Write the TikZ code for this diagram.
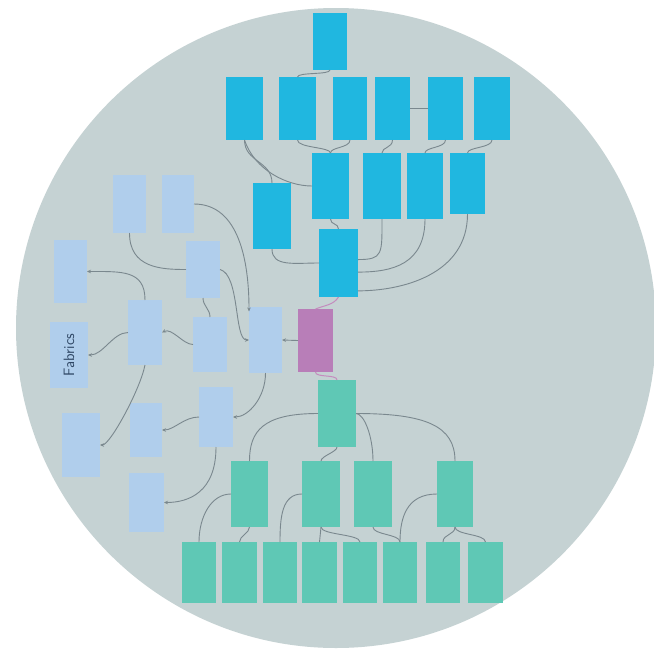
\documentclass[tikz,border=0pt]{standalone}
\usetikzlibrary{arrows.meta}
\definecolor{bgcirc}{RGB}{197,210,211}
\definecolor{cyanc}{RGB}{32,183,224}
\definecolor{lblue}{RGB}{176,206,236}
\definecolor{purp}{RGB}{184,126,184}
\definecolor{tealc}{RGB}{95,200,181}
\definecolor{linec}{RGB}{122,136,142}
\definecolor{pinkl}{RGB}{196,140,190}
\definecolor{txtc}{RGB}{46,70,100}
\tikzset{
  box/.style={inner sep=0pt, outer sep=0pt},
  cbox/.style={box, fill=cyanc},
  lbox/.style={box, fill=lblue},
  pbox/.style={box, fill=purp},
  tbox/.style={box, fill=tealc},
  conn/.style={draw=linec, line width=0.9pt},
  aconn/.style={conn, -{Stealth[length=4pt,width=3.5pt]}},
  pconn/.style={draw=pinkl, line width=1pt},
}
\newcommand{\bx}[7]{\node[#1, minimum width=#5pt, minimum height=#6pt] (#2) at (#3,#4) {#7};}
\begin{document}
\begin{tikzpicture}[x=1pt,y=-1pt]
\useasboundingbox (0,0) rectangle (654,657);
\fill[white] (0,0) rectangle (654,657);
\fill[bgcirc] (336,328) circle (320);
% cyan
\bx{cbox}{T0}{330}{41.5}{34}{57}{}
\bx{cbox}{A1}{244.5}{108.5}{37}{63}{}
\bx{cbox}{A2}{297.5}{108.5}{37}{63}{}
\bx{cbox}{A3}{350}{108.5}{34}{63}{}
\bx{cbox}{A4}{392.5}{108.5}{35}{63}{}
\bx{cbox}{A5}{445.5}{108.5}{35}{63}{}
\bx{cbox}{A6}{492}{108.5}{36}{63}{}
\bx{cbox}{B1}{330.5}{186}{37}{66}{}
\bx{cbox}{B2}{382}{186}{38}{66}{}
\bx{cbox}{B3}{425}{186}{36}{66}{}
\bx{cbox}{B4}{467.5}{183.5}{35}{61}{}
\bx{cbox}{C1}{272}{216}{38}{66}{}
\bx{cbox}{D}{338.5}{263}{39}{68}{}
% purple
\bx{pbox}{P}{315.5}{340.5}{35}{63}{}
% light blue
\bx{lbox}{L1}{129.5}{204}{33}{58}{}
\bx{lbox}{L2}{178}{204}{32}{58}{}
\bx{lbox}{L3}{203}{269.5}{34}{57}{}
\bx{lbox}{L4}{70.5}{271.5}{33}{63}{}
\bx{lbox}{L5}{145}{332.5}{34}{65}{}
\bx{lbox}{L6}{210}{344.5}{34}{55}{}
\bx{lbox}{L7}{265.5}{340}{33}{66}{}
\bx{lbox}{L8}{69}{355}{38}{66}{\rotatebox{90}{\fontsize{15}{17}\selectfont\sffamily\color{txtc}Fabrics}}
\bx{lbox}{L9}{81}{445}{38}{64}{}
\bx{lbox}{L10}{146}{430}{32}{54}{}
\bx{lbox}{L11}{216}{417}{34}{60}{}
\bx{lbox}{L12}{146.5}{502.5}{35}{59}{}
% teal
\bx{tbox}{E}{337}{413.5}{38}{67}{}
\bx{tbox}{F1}{249.5}{494}{37}{66}{}
\bx{tbox}{F2}{321}{494}{38}{66}{}
\bx{tbox}{F3}{373}{494}{38}{66}{}
\bx{tbox}{F4}{455}{494}{36}{66}{}
\bx{tbox}{G1}{199}{572.5}{34}{61}{}
\bx{tbox}{G2}{239.5}{572.5}{35}{61}{}
\bx{tbox}{G3}{280}{572.5}{34}{61}{}
\bx{tbox}{G4}{319.5}{572.5}{35}{61}{}
\bx{tbox}{G5}{360}{572.5}{34}{61}{}
\bx{tbox}{G6}{400}{572.5}{34}{61}{}
\bx{tbox}{G7}{443}{572.5}{34}{61}{}
\bx{tbox}{G8}{485.5}{572.5}{35}{61}{}
% top connectors
\draw[conn] (T0.south) .. controls +(0,5) and +(0,-5) .. (A2.north);
\draw[conn] (A1.south) .. controls +(0,22) and +(0,-22) .. (C1.north);
\draw[conn] (A1.south) .. controls +(10,30) and +(-25,0) .. (B1.west);
\draw[conn] (A2.south) .. controls +(0,8) and +(0,-6) .. (B1.north);
\draw[conn] (A3.south) .. controls +(0,8) and +(0,-6) .. (B1.north);
\draw[conn] (A4.south) .. controls +(0,8) and +(0,-6) .. (B2.north);
\draw[conn] (A4.east) -- (A5.west);
\draw[conn] (A5.south) .. controls +(0,8) and +(0,-6) .. (B3.north);
\draw[conn] (A6.south) .. controls +(0,8) and +(0,-6) .. (B4.north);
\draw[conn] (B1.south) .. controls +(0,6) and +(0,-6) .. (D.north);
\draw[conn] (C1.south) .. controls +(0,18) and +(-25,0) .. (D.west);
\draw[conn] (B2.south) .. controls +(0,35) and +(25,0) .. (D.10);
\draw[conn] (B3.south) .. controls +(0,45) and +(35,0) .. (D.-25);
\draw[conn] (B4.south) .. controls +(0,60) and +(45,0) .. (D.-55);
\draw[pconn] (D.south) .. controls +(-5,8) and +(10,-4) .. (P.north);
\draw[pconn] (P.south) .. controls +(0,6) and +(0,-6) .. (E.north);
% left connectors
\draw[aconn] (P.west) -- (L7.east);
\draw[aconn] (L2.east) .. controls +(45,0) and +(0,-50) .. (L7.120);
\draw[conn] (L1.south) .. controls +(0,35) and +(-25,0) .. (L3.west);
\draw[conn] (L3.south) .. controls +(0,8) and +(0,-8) .. (L6.north);
\draw[aconn] (L3.east) .. controls +(20,5) and +(-15,0) .. (L7.west);
\draw[aconn] (L5.north) .. controls +(0,-30) and +(35,0) .. (L4.east);
\draw[aconn] (L6.west) .. controls +(-10,0) and +(10,-5) .. (L5.east);
\draw[aconn] (L5.west) .. controls +(-15,0) and +(15,0) .. (L8.east);
\draw[aconn] (L5.south) .. controls +(-5,25) and +(10,0) .. (L9.east);
\draw[aconn] (L11.west) .. controls +(-15,0) and +(12,0) .. (L10.east);
\draw[aconn] (L11.south) .. controls +(0,45) and +(25,0) .. (L12.east);
\draw[aconn] (L7.south) .. controls +(0,25) and +(15,0) .. (L11.east);
% bottom connectors
\draw[conn] (E.west) .. controls +(-55,0) and +(0,-30) .. (F1.north);
\draw[conn] (E.east) .. controls +(8,0) and +(0,-25) .. (F3.north);
\draw[conn] (E.east) .. controls +(70,0) and +(0,-35) .. (F4.north);
\draw[conn] (E.south) .. controls +(0,5) and +(0,-5) .. (F2.north);
\draw[conn] (F1.west) .. controls +(-20,0) and +(0,-25) .. (G1.north);
\draw[conn] (F1.south) .. controls +(0,6) and +(0,-6) .. (G2.north);
\draw[conn] (F2.west) .. controls +(-20,0) and +(0,-25) .. (G3.north);
\draw[conn] (F2.south) .. controls +(0,8) and +(0,-8) .. (G4.north);
\draw[conn] (F2.south) .. controls +(0,8) and +(0,-8) .. (G5.north);
\draw[conn] (F3.south) .. controls +(0,8) and +(0,-8) .. (G6.north);
\draw[conn] (F4.west) .. controls +(-30,0) and +(0,-25) .. (G6.north);
\draw[conn] (F4.south) .. controls +(0,8) and +(0,-8) .. (G7.north);
\draw[conn] (F4.south) .. controls +(0,8) and +(0,-8) .. (G8.north);
\end{tikzpicture}
\end{document}
